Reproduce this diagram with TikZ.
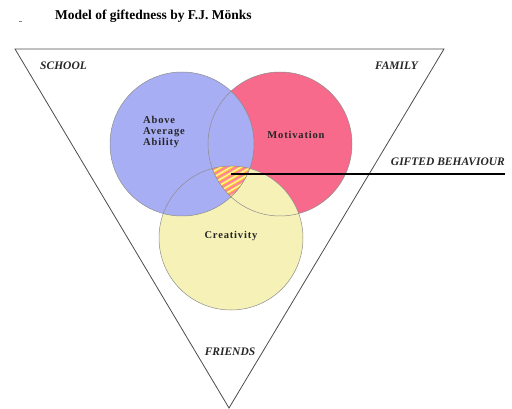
\documentclass[tikz,border=0pt]{standalone}
\usepackage{fontspec}
\setmainfont{Liberation Serif}
\begin{document}
\begin{tikzpicture}[x=1pt,y=-1pt,
  circ/.style={draw=gray!90,line width=0.5pt},
  lbl/.style={font=\fontsize{10.5}{12}\selectfont\bfseries\addfontfeatures{LetterSpace=8}, text=black!85, align=left, inner sep=0pt},
  ctx/.style={font=\fontsize{11.5}{13}\selectfont\bfseries\itshape, text=black!85, inner sep=0pt}]
\useasboundingbox (0,0) rectangle (512,409);
\definecolor{cblue}{HTML}{A8AEF4}
\definecolor{cpink}{HTML}{F76A8C}
\definecolor{cyel}{HTML}{F6F1B6}
\definecolor{corange}{HTML}{FFC526}
\definecolor{hpink}{HTML}{FF7FA8}
\definecolor{hpale}{HTML}{FFF3A8}
% title
\node[font=\fontsize{13.5}{15}\selectfont\bfseries, anchor=west, inner sep=0pt] (title) at (55,16) {Model of giftedness by F.J. M\"onks};
\draw[gray, line width=0.6pt] (19,21.5) -- (21.5,21.5);
% triangle
\coordinate (tl) at (15,49);
\coordinate (tr) at (444,49);
\coordinate (tb) at (229,408);
\draw[black!70, line width=0.8pt] (tl) -- (tr) -- (tb) -- cycle;
% circles
\coordinate (cA) at (182,144);
\coordinate (cM) at (280,144);
\coordinate (cC) at (231,238);
\fill[cpink] (cM) circle (72);
\fill[cyel] (cC) circle (72);
\fill[cblue] (cA) circle (72);
% hatched intersection
\begin{scope}
  \clip (cA) circle (72);
  \clip (cM) circle (72);
  \clip (cC) circle (72);
  \fill[corange] (200,150) rectangle (260,200);
  \foreach \k in {0,...,16} {
    \draw[hpink, line width=1.7pt] (150+\k*10,200) -- ++(60,-35);
    \draw[hpale, line width=1.3pt] (154.5+\k*10,200) -- ++(60,-35);
  }
\end{scope}
\draw[circ] (cM) circle (72);
\draw[circ] (cC) circle (72);
\draw[circ] (cA) circle (72);
% labels
\node[lbl, anchor=north west] (abil) at (143,116) {Above\\[-1pt]Average\\[-1pt]Ability};
\node[lbl] (mot) at (296,135) {Motivation};
\node[lbl] (cre) at (231,236) {Creativity};
\node[ctx, anchor=west] (school) at (40,66) {SCHOOL};
\node[ctx, anchor=east] (family) at (418,66) {FAMILY};
\node[ctx] (friends) at (230,352) {FRIENDS};
\node[ctx, anchor=east] (gifted) at (505,162) {GIFTED BEHAVIOUR};
\coordinate (gs) at (231,174);
\coordinate (ge) at (505,174);
\draw[black, line width=1.6pt] (gs) -- (ge);
\end{tikzpicture}
\end{document}
